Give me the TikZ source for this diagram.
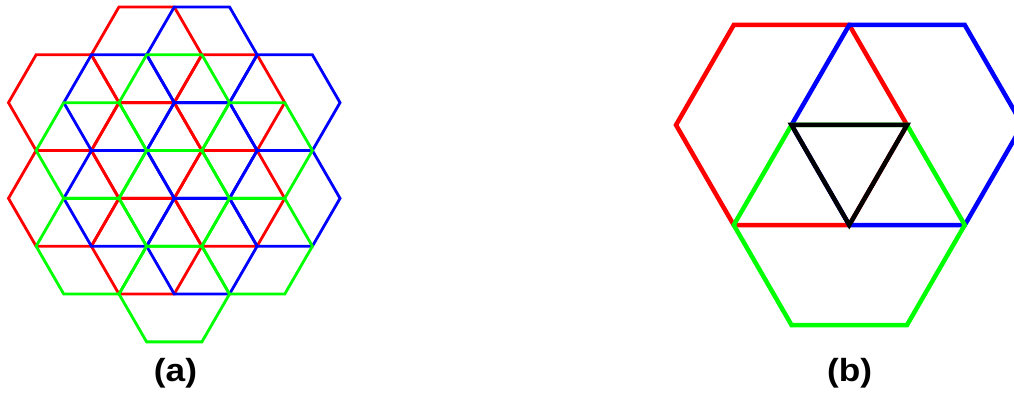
\documentclass[tikz,border=0pt]{standalone}
\usepackage{fontspec}
\setmainfont{Liberation Sans}
\definecolor{hred}{RGB}{255,0,0}
\definecolor{hblue}{RGB}{0,0,255}
\definecolor{hgreen}{RGB}{0,255,0}
\newcommand\hexg[4]{\draw[#1, shift={(#2,#3)}] (0:#4) -- (60:#4) -- (120:#4) -- (180:#4) -- (240:#4) -- (300:#4) -- cycle;}
\newcommand\flower[3]{%
  \foreach \dx/\dy in {0/0,0/2,0/-2,1.5/1,1.5/-1,-1.5/1,-1.5/-1}{%
    \hexg{#1,thinhex}{#2+\dx*55.25}{#3+\dy*47.85}{55.25}}}
\begin{document}
\begin{tikzpicture}[x=1pt,y=-1pt,
  thinhex/.style={line width=2.8pt, line join=miter},
  thickhex/.style={line width=4.5pt, line join=miter},
  lbl/.style={font=\fontsize{32}{38}\selectfont\bfseries, inner sep=0pt, xscale=1.1, transform shape}]
\useasboundingbox (0,0) rectangle (1014,398);
\clip (0,0) rectangle (1014,398);
% (a): three flowers of seven hexagons
\flower{hred}{146.6}{150.5}
\flower{hblue}{201.9}{150.5}
\flower{hgreen}{174.25}{198.35}
% (b)
\coordinate (rc) at (791.5,125);
\coordinate (bc) at (907,125);
\coordinate (gc) at (849.25,225);
\hexg{hred,thickhex}{791.5}{125}{115.5}
\hexg{hblue,thickhex}{907}{125}{115.5}
\hexg{hgreen,thickhex}{849.25}{225}{115.5}
\draw[black,thickhex] (rc) -- (bc) -- (gc) -- cycle;
% labels
\node[lbl] (la) at (175.5,373.5) {(a)};
\node[lbl] (lb) at (849.5,373.5) {(b)};
\end{tikzpicture}
\end{document}
